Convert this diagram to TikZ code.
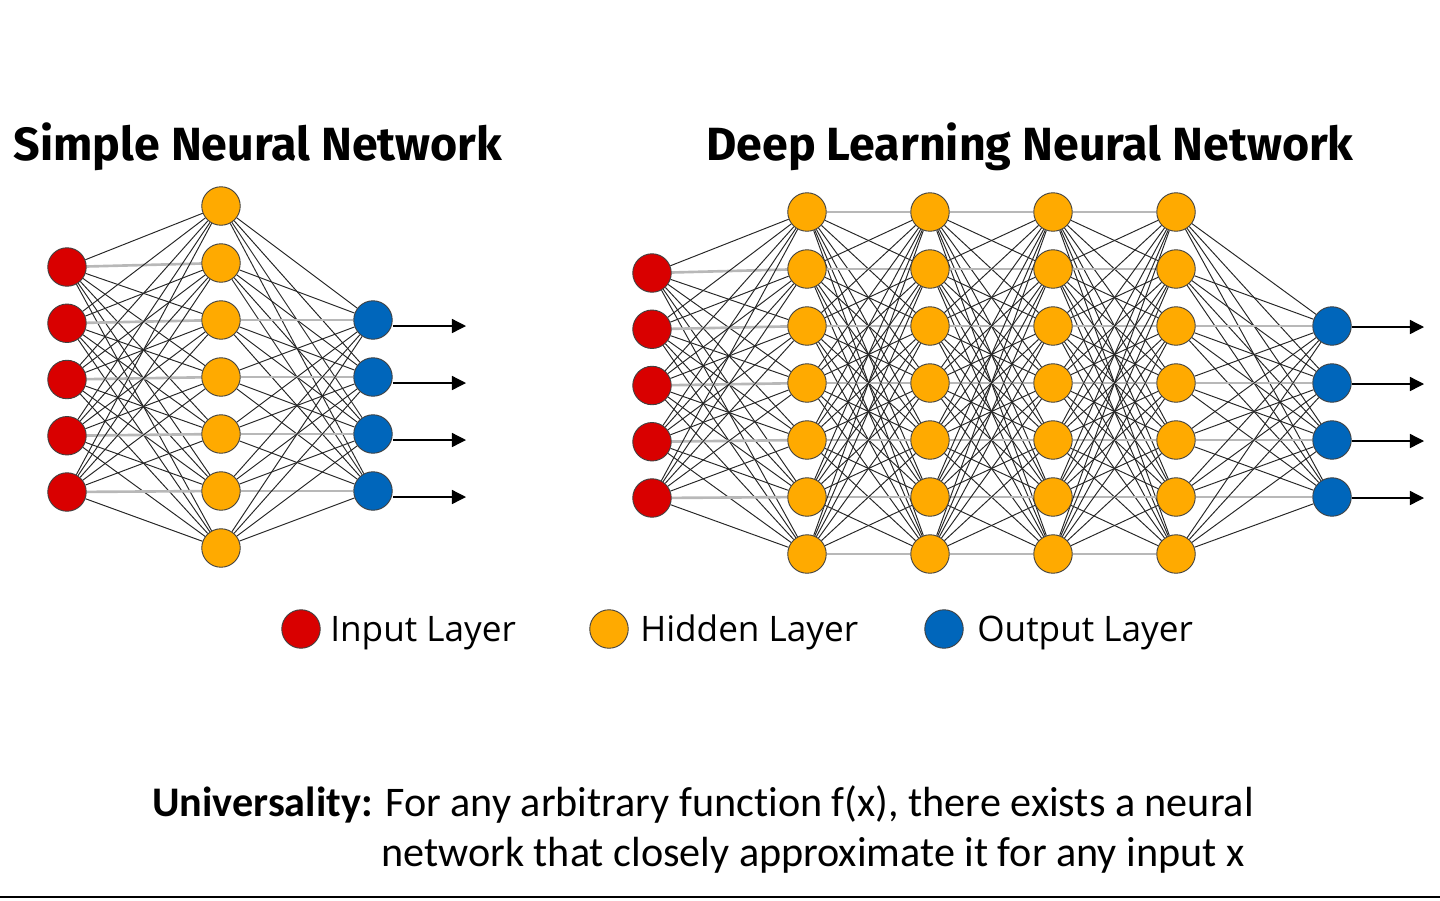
\documentclass[tikz,border=0pt]{standalone}
\usepackage{fontspec}
\setmainfont{Carlito}[Ligatures=NoCommon]
\newfontfamily\titlefont{Fira Sans}
\newfontfamily\legendfont{Open Sans}
\usepackage{tikz}
\usetikzlibrary{arrows.meta}
\usetikzlibrary{backgrounds}
\usetikzlibrary{calc}

\definecolor{inred}{HTML}{D90000}
\definecolor{hidorange}{HTML}{FFAA00}
\definecolor{outblue}{HTML}{0066BB}

\begin{document}
\begin{tikzpicture}[x=0.02cm,y=-0.02cm]
    \newcommand{\neuronsize}[0]{0.77cm}

    \tikzstyle{neuron}=[
      circle,
      draw=black!75,
      line width=0.5pt,
      minimum size=\neuronsize,
      inner sep=0pt,
    ]
    \tikzstyle{wedge} = [draw=black!85,line width=0.55pt]
    \tikzstyle{flatedge} = [draw=black!28,line width=1.5pt]
    \tikzstyle{oedge} = [line width=0.75pt,-{Triangle[length=8pt,width=8pt]},draw=black]
    \tikzstyle{title}=[
      font=\titlefont\bfseries\fontsize{26.5}{32}\selectfont,
      anchor=base,
    ]
    \tikzstyle{legend}=[
      font=\legendfont\fontsize{20}{24}\selectfont,
      anchor=base west,
      inner sep=0pt,
    ]
    \tikzstyle{statement}=[
      font=\fontsize{24}{29}\selectfont,
      anchor=base west,
      inner sep=0pt,
    ]

    % connects every node of one layer to every node of the next
    \newcommand{\linklayers}[5]{%
      \foreach \a in {1,...,#2}{
        \foreach \b in {1,...,#4}{
          \ifnum\b=\numexpr\a+#5\relax
            \draw[flatedge] (#1\a) -- (#3\b);
          \else
            \draw[wedge] (#1\a) -- (#3\b);
          \fi
        }
      }
    }

    \useasboundingbox (0,0) rectangle (1440,900);

    \node[title] (simpletitle) at (258,160) {Simple Neural Network};
    \node[title] (deeptitle) at (1030,160) {Deep Learning Neural Network};

    % simple network
    \foreach \i in {1,...,5}
      \node[neuron,fill=inred] (sin\i) at (67,{267+56.25*(\i-1)}) {};
    \foreach \i in {1,...,7}
      \node[neuron,fill=hidorange] (shid\i) at (221,{206+57*(\i-1)}) {};
    \foreach \i in {1,...,4}{
      \node[neuron,fill=outblue] (sout\i) at (373,{320+57*(\i-1)}) {};
      \coordinate (sarrow\i) at (466,{326+57*(\i-1)});
      \draw[oedge] (sout\i.east |- sarrow\i) -- (sarrow\i);
    }

    % deep network
    \foreach \i in {1,...,5}
      \node[neuron,fill=inred] (din\i) at (652,{273+56.25*(\i-1)}) {};
    \foreach \l/\x in {a/807,b/930,c/1053,d/1176}
      \foreach \i in {1,...,7}
        \node[neuron,fill=hidorange] (dhid\l\i) at (\x,{212+57*(\i-1)}) {};
    \foreach \i in {1,...,4}{
      \node[neuron,fill=outblue] (dout\i) at (1332,{326+57*(\i-1)}) {};
      \coordinate (darrow\i) at (1424,{327+57*(\i-1)});
      \draw[oedge] (dout\i.east |- darrow\i) -- (darrow\i);
    }

    \begin{scope}[on background layer]
      \linklayers{sin}{5}{shid}{7}{1}
      \linklayers{shid}{7}{sout}{4}{-2}
      \linklayers{din}{5}{dhida}{7}{1}
      \linklayers{dhida}{7}{dhidb}{7}{0}
      \linklayers{dhidb}{7}{dhidc}{7}{0}
      \linklayers{dhidc}{7}{dhidd}{7}{0}
      \linklayers{dhidd}{7}{dout}{4}{-2}
    \end{scope}

    % legend
    \node[neuron,fill=inred] (leginput) at (301,629) {};
    \node[legend] (leginputtext) at (330,641) {Input Layer};
    \node[neuron,fill=hidorange] (leghidden) at (609,629) {};
    \node[legend] (leghiddentext) at (640,641) {Hidden Layer};
    \node[neuron,fill=outblue] (legoutput) at (944,629) {};
    \node[legend] (legoutputtext) at (977,641) {Output Layer};

    % statement
    \node[statement] (univone) at (152,816)
      {\textbf{Universality:} For any arbitrary function f(x), there exists a neural};
    \node[statement] (univtwo) at (381,866)
      {network that closely approximate it for any input x};

    \draw[line width=1.1pt] (0,897) -- (1440,897);
  \end{tikzpicture}
\end{document}
